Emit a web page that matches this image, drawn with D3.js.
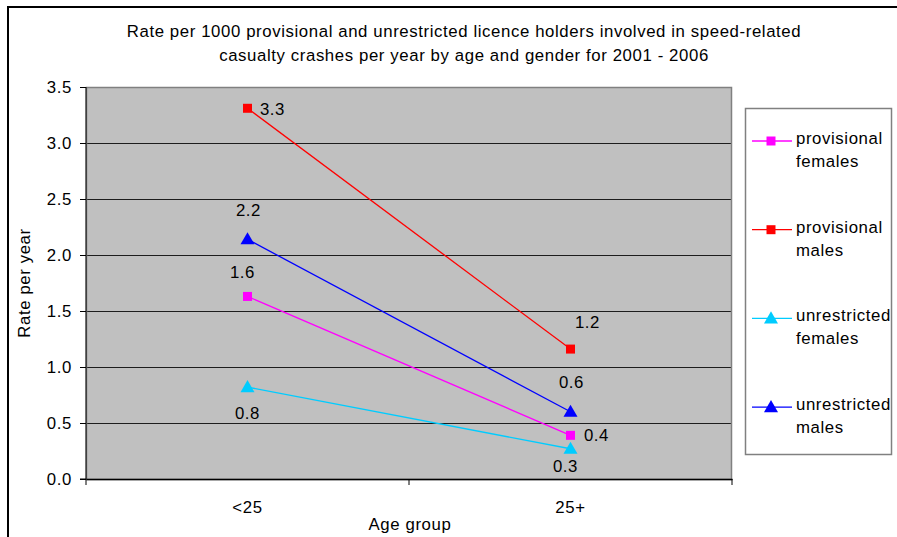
<!DOCTYPE html>
<html><head><meta charset="utf-8">
<script src="https://cdn.jsdelivr.net/npm/d3@7"></script>
<style>body{margin:0;background:#fff}svg{display:block;font-family:"Liberation Sans",Arial,sans-serif}svg text{letter-spacing:0.6px}</style>
</head><body><svg id="c" width="897" height="537"></svg>
<script>
const categories = ["<25", "25+"];
const seriesNames = ["provisional females", "provisional males", "unrestricted females", "unrestricted males"];
const provisionalFemales = [1.63, 0.39];
const provisionalMales = [3.31, 1.16];
const unrestrictedFemales = [0.82, 0.27];
const unrestrictedMales = [2.14, 0.60];
const labelTexts = [["1.6", "0.4"], ["3.3", "1.2"], ["0.8", "0.3"], ["2.2", "0.6"]];
const yTicks = [0, 0.5, 1.0, 1.5, 2.0, 2.5, 3.0, 3.5];
const colors = ["#ff00ff", "#ff0000", "#00ccff", "#0000ff"];
const shapes = ["square", "square", "triangle", "triangle"];
// label offsets [dx, dy] of label centre relative to point (style)
const labelOffsets = [[[-5, -24], [26, 0]], [[25, 1], [17, -27]], [[0, 26], [-5, 17]], [[1, -29], [1, -30]]];

const series = [provisionalFemales, provisionalMales, unrestrictedFemales, unrestrictedMales];
const svg = d3.select("#c");
const L = 86, R = 732, T = 87, B = 479;
const FS = 16.8;

// outer border
svg.append("path").attr("d", "M8,540 V7 H900").attr("fill", "none").attr("stroke", "#000").attr("stroke-width", 2);

// title
const title = svg.append("text").attr("text-anchor", "middle").attr("font-size", FS).attr("fill", "#000");
title.append("tspan").attr("x", 464).attr("y", 37).text("Rate per 1000 provisional and unrestricted licence holders involved in speed-related");
title.append("tspan").attr("x", 464).attr("y", 61).text("casualty crashes per year by age and gender for 2001 - 2006");

const x = d3.scaleBand().domain(categories).range([L, R]);
const y = d3.scaleLinear().domain([0, 3.5]).range([B, T]);

svg.append("rect").attr("x", L).attr("y", T).attr("width", R - L).attr("height", B - T).attr("fill", "#c0c0c0");

// gridlines
svg.append("g").selectAll("line").data(yTicks.filter(d => d > 0 && d < 3.5)).join("line")
  .attr("x1", L).attr("x2", R).attr("y1", d => Math.round(y(d)) + 0.5).attr("y2", d => Math.round(y(d)) + 0.5)
  .attr("stroke", "#000").attr("stroke-width", 1).attr("stroke-opacity", 0.85);
// plot border
svg.append("rect").attr("x", L + 0.5).attr("y", T + 0.5).attr("width", R - L - 1).attr("height", B - T)
  .attr("fill", "none").attr("stroke", "#808080").attr("stroke-width", 1.5);

// y axis
const yAxis = svg.append("g").attr("transform", `translate(${L},0)`)
  .call(d3.axisLeft(y).tickValues(yTicks).tickFormat(d3.format(".1f")).tickSize(6).tickPadding(8));
yAxis.select(".domain").attr("stroke", "#000").attr("d", `M-6,${B}H0V${T}`);
yAxis.selectAll("text").attr("font-size", FS).attr("font-family", "Liberation Sans, Arial, sans-serif").attr("fill", "#000");

// x axis
const xAxis = svg.append("g").attr("transform", `translate(0,${B})`)
  .call(d3.axisBottom(x).tickSize(0).tickPadding(22));
xAxis.select(".domain").attr("stroke", "#000").attr("stroke-width", 1.5);
xAxis.selectAll("text").attr("font-size", FS).attr("font-family", "Liberation Sans, Arial, sans-serif").attr("fill", "#000");
svg.append("g").selectAll("line").data([L, L + x.bandwidth(), R]).join("line")
  .attr("x1", d => d).attr("x2", d => d).attr("y1", B).attr("y2", B + 6).attr("stroke", "#000");

// axis titles
svg.append("text").attr("x", 410).attr("y", 530).attr("text-anchor", "middle").attr("font-size", FS).text("Age group");
svg.append("text").attr("transform", "translate(30,283) rotate(-90)").attr("text-anchor", "middle").attr("font-size", FS).text("Rate per year");

const cx = c => x(c) + x.bandwidth() / 2;
const sym = s => d3.symbol().type(s === "square" ? d3.symbolSquare : d3.symbolTriangle).size(s === "square" ? 81 : 85)();

series.forEach((vals, i) => {
  const pts = categories.map((c, j) => [cx(c), y(vals[j])]);
  svg.append("path").attr("d", d3.line()(pts)).attr("fill", "none").attr("stroke", colors[i]).attr("stroke-width", 1.3);
  pts.forEach((p, j) => {
    svg.append("path").attr("d", sym(shapes[i])).attr("transform", `translate(${p[0]},${p[1] + (shapes[i] === "triangle" ? 1 : 0)})`).attr("fill", colors[i]);
    svg.append("text").attr("x", p[0] + labelOffsets[i][j][0]).attr("y", p[1] + labelOffsets[i][j][1] + 6)
      .attr("text-anchor", "middle").attr("font-size", FS).text(labelTexts[i][j]);
  });
});

// legend
svg.append("rect").attr("x", 745.5).attr("y", 108.5).attr("width", 146).attr("height", 346)
  .attr("fill", "#fff").attr("stroke", "#808080").attr("stroke-width", 1.5);
const ly0 = 141, lstep = 88.7;
seriesNames.forEach((n, i) => {
  const yy = ly0 + i * lstep;
  svg.append("line").attr("x1", 752).attr("x2", 792).attr("y1", yy).attr("y2", yy).attr("stroke", colors[i]).attr("stroke-width", 1.3);
  svg.append("path").attr("d", sym(shapes[i])).attr("transform", `translate(771,${yy + (shapes[i] === "triangle" ? 1 : 0)})`).attr("fill", colors[i]);
  const words = n.split(" ");
  const t = svg.append("text").attr("font-size", FS);
  t.append("tspan").attr("x", 796).attr("y", yy + 3).text(words[0]);
  t.append("tspan").attr("x", 796).attr("y", yy + 26).text(words[1]);
});
</script></body></html>
